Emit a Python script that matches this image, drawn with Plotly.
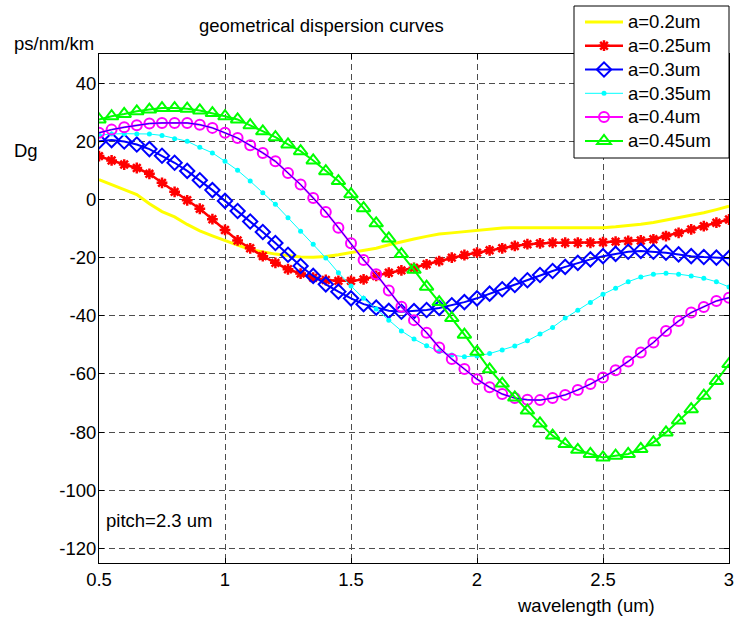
import plotly.graph_objects as go

wavelength = [0.5, 0.55, 0.6, 0.65, 0.7, 0.75, 0.8, 0.85, 0.9, 0.95,
              1.0, 1.05, 1.1, 1.15, 1.2, 1.25, 1.3, 1.35, 1.4, 1.45,
              1.5, 1.55, 1.6, 1.65, 1.7, 1.75, 1.8, 1.85, 1.9, 1.95,
              2.0, 2.05, 2.1, 2.15, 2.2, 2.25, 2.3, 2.35, 2.4, 2.45,
              2.5, 2.55, 2.6, 2.65, 2.7, 2.75, 2.8, 2.85, 2.9, 2.95, 3.0]

d_a020 = [6.8, 5.0, 3.4, 1.7, -1.5, -4.2, -6.0, -8.6, -10.8, -12.5,
          -14.2, -15.7, -17.2, -18.1, -18.8, -19.3, -19.8, -19.9, -19.6, -19.0,
          -18.3, -17.6, -16.8, -15.6, -14.5, -13.6, -12.7, -11.9, -11.5, -11.1,
          -10.7, -10.2, -9.8, -9.7, -9.7, -9.7, -9.7, -9.7, -9.7, -9.7,
          -9.7, -9.4, -9.0, -8.5, -7.9, -7.1, -6.3, -5.5, -4.6, -3.5, -2.3]

d_a025 = [14.9, 13.4, 12.0, 10.8, 8.8, 5.7, 2.6, -0.3, -3.2, -6.8,
          -10.5, -14.1, -16.8, -19.5, -21.8, -24.0, -25.5, -26.9, -27.7, -28.0,
          -28.0, -27.5, -26.3, -25.2, -24.4, -23.5, -22.3, -21.2, -20.0, -19.1,
          -18.3, -17.5, -16.8, -16.0, -15.4, -15.1, -14.9, -14.9, -14.9, -14.9,
          -14.7, -14.5, -14.3, -14.1, -13.7, -12.6, -11.5, -10.3, -9.2, -8.0, -6.9]

d_a030 = [20.0, 20.4, 19.9, 18.9, 17.3, 15.0, 12.6, 9.8, 6.6, 3.2,
          -0.5, -4.0, -7.6, -11.2, -15.0, -19.0, -22.9, -26.3, -29.2, -31.7,
          -34.0, -36.0, -37.2, -38.3, -38.6, -38.4, -38.0, -37.3, -36.4, -35.3,
          -34.0, -32.4, -30.9, -29.4, -27.8, -26.0, -24.6, -23.2, -21.8, -20.6,
          -19.5, -18.7, -18.0, -17.7, -18.0, -18.3, -18.9, -19.5, -19.8, -20.0, -20.2]

d_a035 = [22.1, 22.5, 22.6, 22.5, 22.5, 22.0, 20.9, 20.0, 17.9, 16.0,
          13.1, 10.0, 6.3, 2.3, -1.7, -6.3, -10.9, -15.4, -20.1, -25.2,
          -29.8, -34.0, -37.7, -41.5, -45.2, -48.0, -50.3, -52.3, -53.5, -54.1,
          -53.8, -53.0, -51.8, -50.4, -48.6, -46.3, -44.0, -40.8, -38.1, -35.4,
          -32.6, -30.5, -28.3, -26.7, -25.7, -25.4, -25.7, -26.3, -27.1, -28.3, -30.1]

d_a040 = [22.9, 24.0, 24.8, 25.5, 26.1, 26.3, 26.3, 26.3, 25.7, 24.6,
          22.9, 21.1, 18.6, 16.0, 13.1, 9.1, 5.1, 0.5, -4.3, -9.7,
          -15.1, -20.8, -25.7, -31.3, -36.9, -41.5, -45.8, -50.9, -54.9, -58.3,
          -61.8, -64.6, -66.9, -68.3, -68.9, -69.0, -68.3, -67.2, -65.5, -63.5,
          -61.2, -58.7, -55.7, -52.6, -49.2, -45.2, -41.8, -38.9, -37.0, -34.9, -33.8]

d_a045 = [27.5, 28.6, 29.4, 30.3, 30.9, 31.4, 31.4, 31.2, 30.6, 29.7,
          28.6, 27.5, 25.5, 23.4, 21.4, 18.9, 16.6, 13.4, 9.7, 6.3,
          1.8, -3.0, -8.2, -13.4, -18.8, -24.2, -30.0, -35.3, -40.8, -46.5,
          -52.4, -58.4, -63.3, -68.1, -72.6, -77.0, -81.2, -84.1, -86.1, -87.5,
          -88.7, -88.1, -87.5, -85.8, -83.5, -80.1, -76.0, -72.1, -67.5, -62.4, -56.6]

series_names = ["a=0.2um", "a=0.25um", "a=0.3um", "a=0.35um", "a=0.4um", "a=0.45um"]
x_ticks = [0.5, 1, 1.5, 2, 2.5, 3]
x_tick_labels = ["0.5", "1", "1.5", "2", "2.5", "3"]
y_ticks = [40, 20, 0, -20, -40, -60, -80, -100, -120]
y_tick_labels = ["40", "20", "0", "-20", "-40", "-60", "-80", "-100", "-120"]

FONT = "Liberation Sans, Arial, sans-serif"
FS = 18.5


def lg(name):
    return '<span style="font-size:%.1fpx">%s</span>' % (FS, name)


fig = go.Figure()

fig.add_trace(go.Scatter(x=wavelength, y=d_a020, name=lg(series_names[0]), mode="lines",
                         line=dict(color="#FFFF00", width=3)))
fig.add_trace(go.Scatter(x=wavelength, y=d_a025, name=lg(series_names[1]), mode="lines+markers",
                         line=dict(color="#FF0000", width=2.5),
                         marker=dict(symbol="asterisk-open", size=9, color="#FF0000",
                                     line=dict(color="#FF0000", width=2.5))))
fig.add_trace(go.Scatter(x=wavelength, y=d_a030, name=lg(series_names[2]), mode="lines+markers",
                         line=dict(color="#0000FF", width=2),
                         marker=dict(symbol="diamond-open", size=11, color="#0000FF",
                                     line=dict(color="#0000FF", width=2))))
fig.add_trace(go.Scatter(x=wavelength, y=d_a035, name=lg(series_names[3]), mode="lines+markers",
                         line=dict(color="#00FFFF", width=1),
                         marker=dict(symbol="circle", size=5, color="#00FFFF")))
fig.add_trace(go.Scatter(x=wavelength, y=d_a040, name=lg(series_names[4]), mode="lines+markers",
                         line=dict(color="#FF00FF", width=2),
                         marker=dict(symbol="circle-open", size=10, color="#FF00FF",
                                     line=dict(color="#FF00FF", width=2))))
fig.add_trace(go.Scatter(x=wavelength, y=d_a040, mode="lines", showlegend=False,
                         line=dict(color="#0000FF", width=1), hoverinfo="skip"))
fig.add_trace(go.Scatter(x=wavelength, y=d_a045, name=lg(series_names[5]), mode="lines+markers",
                         line=dict(color="#00FF00", width=2),
                         marker=dict(symbol="triangle-up-open", size=12, color="#00FF00",
                                     line=dict(color="#00FF00", width=2))))

axis_common = dict(
    showline=True, linecolor="black", linewidth=1, mirror="allticks",
    ticks="inside", ticklen=5, tickcolor="black",
    showgrid=True, gridcolor="#4d4d4d", gridwidth=1, griddash="6px,4px",
    zeroline=False, tickfont=dict(family=FONT, size=FS, color="black"),
)

fig.update_xaxes(range=[0.5, 3], tickvals=x_ticks, ticktext=x_tick_labels, **axis_common)
fig.update_yaxes(range=[-125, 50], tickvals=y_ticks, ticktext=y_tick_labels,
                 ticklabelstandoff=-2, **axis_common)

W, H = 737, 621
L, R, T, B = 99, 8, 54, 58
pw, ph = W - L - R, H - T - B


def px(xp):
    return (xp - L) / pw


def py(yp):
    return (H - B - yp) / ph


annotations = [
    dict(text="geometrical dispersion curves", x=px(321), y=py(25), xanchor="center", yanchor="middle"),
    dict(text="ps/nm/km", x=px(12), y=py(43), xanchor="left", yanchor="middle"),
    dict(text="Dg", x=px(12), y=py(150), xanchor="left", yanchor="middle"),
    dict(text="wavelength (um)", x=px(586), y=py(605), xanchor="center", yanchor="middle"),
    dict(text="pitch=2.3 um", x=px(104), y=py(520), xanchor="left", yanchor="middle"),
]
for a in annotations:
    a.update(xref="paper", yref="paper", showarrow=False,
             font=dict(family=FONT, size=FS, color="black"))

legend_box = dict(type="rect", xref="paper", yref="paper",
                  x0=px(574), x1=px(729), y0=py(158), y1=py(6),
                  fillcolor="white", line=dict(color="black", width=1), layer="above")

fig.update_layout(
    width=W, height=H,
    margin=dict(l=L, r=R, t=T, b=B, autoexpand=False),
    paper_bgcolor="white", plot_bgcolor="white",
    showlegend=True,
    legend=dict(x=px(580), y=py(5), xanchor="left", yanchor="top",
                bgcolor="rgba(0,0,0,0)", borderwidth=0,
                font=dict(family=FONT, size=16, color="black"),
                itemwidth=38, tracegroupgap=0),
    annotations=annotations,
    shapes=[legend_box],
)

fig.write_html("out.html")
